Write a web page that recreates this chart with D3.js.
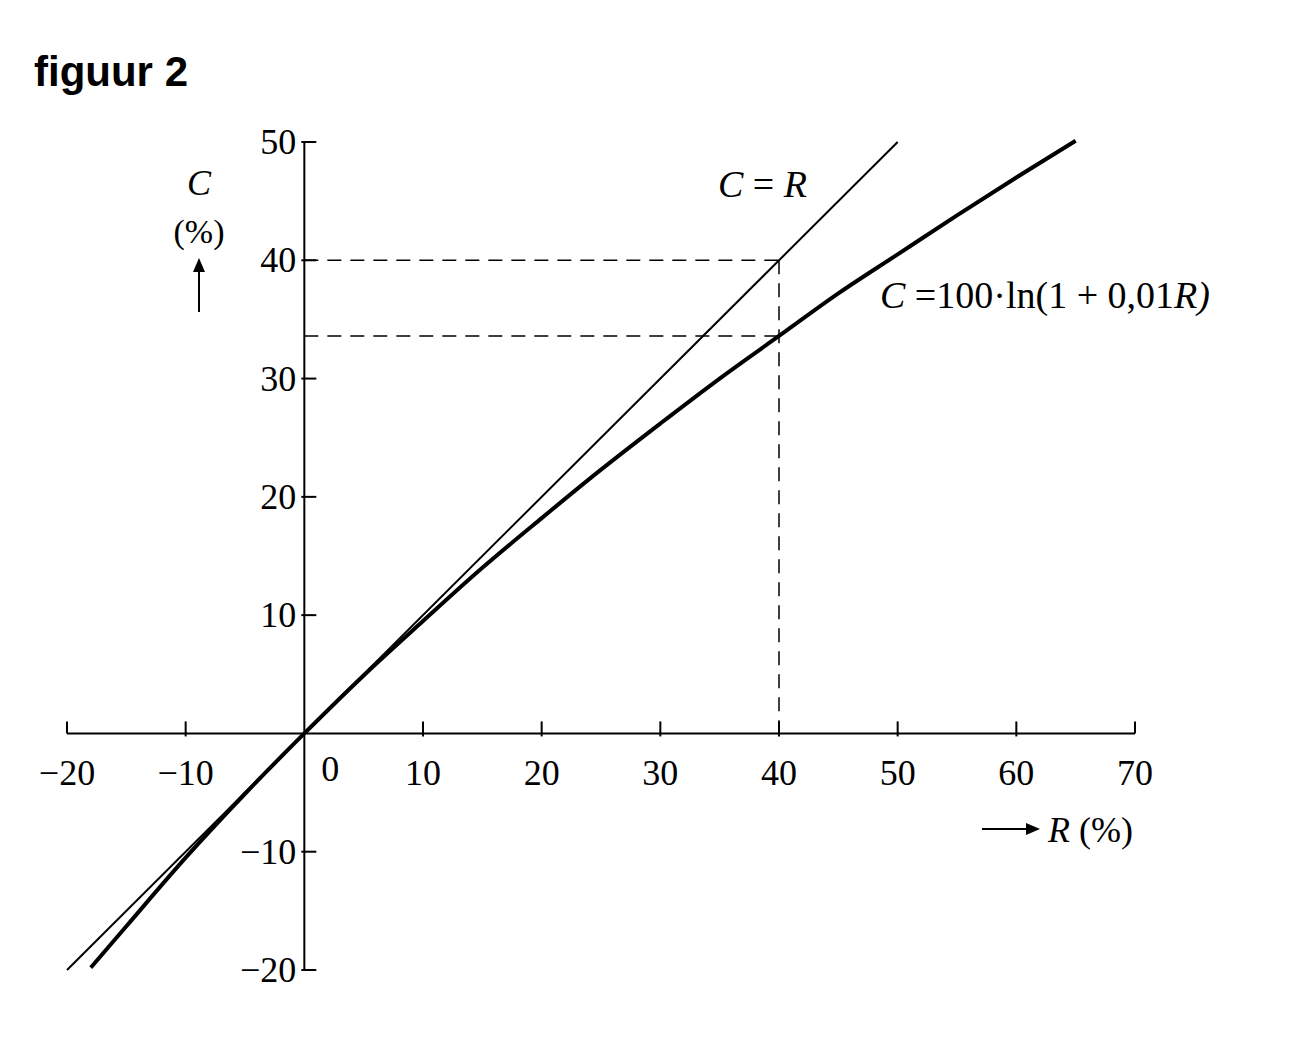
<!DOCTYPE html>
<html><head><meta charset="utf-8">
<script src="https://cdn.jsdelivr.net/npm/d3@7"></script>
<style>body{margin:0;background:#fff}</style>
</head><body>
<svg id="chart" width="1312" height="1059"></svg>
<script>
// values
const xTicks = [-20, -10, 10, 20, 30, 40, 50, 60, 70];
const yTicks = [-20, -10, 10, 20, 30, 40, 50];
const lineR = [-20, 50];          // C = R
const curveR = [-18, -15, -10, -5, 0, 5, 10, 15, 20, 25, 30, 35, 40, 45, 50, 55, 60, 65];
const curveC = [-19.8, -16.3, -10.5, -5.1, 0, 4.9, 9.5, 14.0, 18.2, 22.3, 26.2, 30.0, 33.6, 37.2, 40.5, 43.8, 47.0, 50.1];
const markR = 40, markC = 33.6;

const svg = d3.select("#chart");
const x = d3.scaleLinear().domain([-20, 70]).range([67, 1135]);
const y = d3.scaleLinear().domain([-20, 50]).range([970, 142]);
const serif = "'Liberation Serif', 'Times New Roman', serif";

svg.append("text").attr("x", 34).attr("y", 86)
  .attr("font-family", "'Liberation Sans', Arial, sans-serif").attr("font-weight", "bold")
  .attr("font-size", 42).text("figuur 2");

// axes
svg.append("line").attr("x1", x(-20)).attr("x2", x(70)).attr("y1", y(0)).attr("y2", y(0))
  .attr("stroke", "#000").attr("stroke-width", 2);
svg.append("line").attr("x1", x(0)).attr("x2", x(0)).attr("y1", y(-20)).attr("y2", y(50))
  .attr("stroke", "#000").attr("stroke-width", 2);

svg.selectAll(".xt").data(xTicks).enter().append("line")
  .attr("x1", d => x(d)).attr("x2", d => x(d))
  .attr("y1", y(0) - 12).attr("y2", d => (d === -20 || d === 70) ? y(0) : y(0) + 3)
  .attr("stroke", "#000").attr("stroke-width", 2);
svg.selectAll(".xl").data(xTicks).enter().append("text")
  .attr("x", d => x(d)).attr("y", y(0) + 52).attr("text-anchor", "middle")
  .attr("font-family", serif).attr("font-size", 36)
  .text(d => d < 0 ? "\u2212" + (-d) : d);
svg.append("text").attr("x", x(0) + 26).attr("y", y(0) + 48).attr("text-anchor", "middle")
  .attr("font-family", serif).attr("font-size", 36).text("0");

svg.selectAll(".yt").data(yTicks).enter().append("line")
  .attr("x1", x(0) - 3).attr("x2", x(0) + 12)
  .attr("y1", d => y(d)).attr("y2", d => y(d))
  .attr("stroke", "#000").attr("stroke-width", 2);
svg.selectAll(".yl").data(yTicks).enter().append("text")
  .attr("x", x(0) - 8).attr("y", d => y(d) + 12).attr("text-anchor", "end")
  .attr("font-family", serif).attr("font-size", 36)
  .text(d => d < 0 ? "\u2212" + (-d) : d);

// axis titles
svg.append("text").attr("x", 199).attr("y", 195).attr("text-anchor", "middle")
  .attr("font-family", serif).attr("font-style", "italic").attr("font-size", 36).text("C");
svg.append("text").attr("x", 199).attr("y", 243).attr("text-anchor", "middle")
  .attr("font-family", serif).attr("font-size", 34).text("(%)");
svg.append("line").attr("x1", 199).attr("x2", 199).attr("y1", 312).attr("y2", 268)
  .attr("stroke", "#000").attr("stroke-width", 2);
svg.append("path").attr("d", "M193,272 L199,258 L205,272 Z").attr("fill", "#000");

svg.append("line").attr("x1", 982).attr("x2", 1030).attr("y1", 829).attr("y2", 829)
  .attr("stroke", "#000").attr("stroke-width", 2);
svg.append("path").attr("d", "M1026,823 L1040,829 L1026,835 Z").attr("fill", "#000");
svg.append("text").attr("x", 1048).attr("y", 842).attr("font-family", serif).attr("font-size", 36)
  .html("<tspan font-style='italic'>R</tspan> (%)");

// dashed guides
const dash = "14,9";
svg.append("line").attr("x1", x(0)).attr("x2", x(markR)).attr("y1", y(markR)).attr("y2", y(markR))
  .attr("stroke", "#000").attr("stroke-width", 1.5).attr("stroke-dasharray", dash);
svg.append("line").attr("x1", x(0)).attr("x2", x(markR)).attr("y1", y(markC)).attr("y2", y(markC))
  .attr("stroke", "#000").attr("stroke-width", 1.5).attr("stroke-dasharray", dash);
svg.append("line").attr("x1", x(markR)).attr("x2", x(markR)).attr("y1", y(markR)).attr("y2", y(0))
  .attr("stroke", "#000").attr("stroke-width", 1.5).attr("stroke-dasharray", dash);

// C = R
svg.append("line").attr("x1", x(lineR[0])).attr("y1", y(lineR[0]))
  .attr("x2", x(lineR[1])).attr("y2", y(lineR[1]))
  .attr("stroke", "#000").attr("stroke-width", 2);

// curve
const pts = curveR.map((r, i) => [r, curveC[i]]);
svg.append("path").datum(pts)
  .attr("d", d3.line().x(d => x(d[0])).y(d => y(d[1])).curve(d3.curveMonotoneX))
  .attr("fill", "none").attr("stroke", "#000").attr("stroke-width", 4);

// labels
svg.append("text").attr("x", 718).attr("y", 197).attr("font-family", serif).attr("font-size", 38)
  .html("<tspan font-style='italic'>C</tspan> = <tspan font-style='italic'>R</tspan>");
svg.append("text").attr("x", 880).attr("y", 308).attr("font-family", serif).attr("font-size", 38)
  .html("<tspan font-style='italic'>C</tspan> =100\u00b7ln(1 + 0,01<tspan font-style='italic'>R)</tspan>");
</script>
</body></html>
